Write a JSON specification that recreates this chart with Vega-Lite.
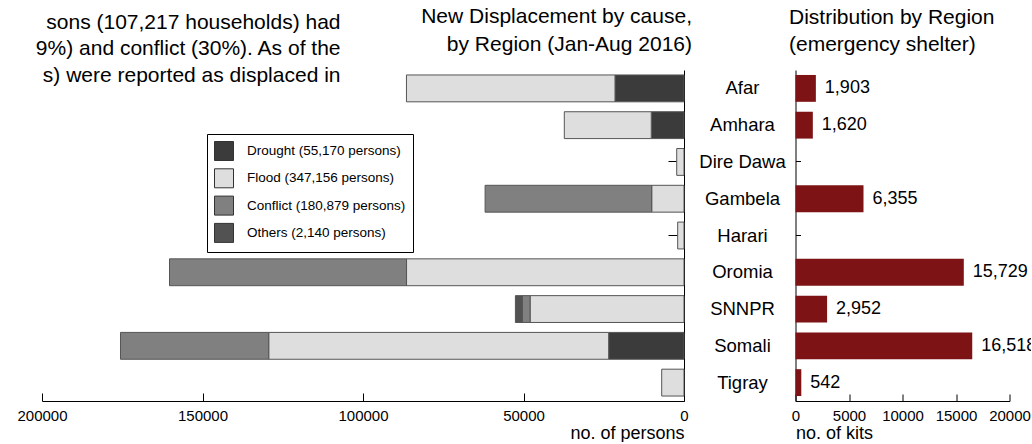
{
  "$schema": "https://vega.github.io/schema/vega-lite/v6.json",
  "padding": {"left": 16, "top": 6, "right": -6, "bottom": 0},
  "bounds": "flush",
  "spacing": 111.5,
  "config": {
    "font": "Liberation Sans",
    "view": {"stroke": null},
    "axis": {"labelFont": "Liberation Sans", "titleFont": "Liberation Sans", "labelColor": "#000", "titleColor": "#000", "domainColor": "#000", "tickColor": "#000", "grid": false, "titleFontWeight": "normal"},
    "title": {"font": "Liberation Sans", "fontWeight": "normal", "color": "#000"},
    "legend": {"labelFont": "Liberation Sans", "labelColor": "#000"}
  },
  "datasets": {
    "displacement": [
      {"region": "Afar", "cause": "Drought", "persons": 21500},
      {"region": "Afar", "cause": "Flood", "persons": 64960},
      {"region": "Amhara", "cause": "Drought", "persons": 10200},
      {"region": "Amhara", "cause": "Flood", "persons": 27090},
      {"region": "Dire Dawa", "cause": "Flood", "persons": 2270},
      {"region": "Gambela", "cause": "Flood", "persons": 10060},
      {"region": "Gambela", "cause": "Conflict", "persons": 51900},
      {"region": "Harari", "cause": "Flood", "persons": 1970},
      {"region": "Oromia", "cause": "Flood", "persons": 86440},
      {"region": "Oromia", "cause": "Conflict", "persons": 73840},
      {"region": "SNNPR", "cause": "Flood", "persons": 47950},
      {"region": "SNNPR", "cause": "Conflict", "persons": 2430},
      {"region": "SNNPR", "cause": "Others", "persons": 2140},
      {"region": "Somali", "cause": "Drought", "persons": 23470},
      {"region": "Somali", "cause": "Flood", "persons": 105900},
      {"region": "Somali", "cause": "Conflict", "persons": 46180},
      {"region": "Tigray", "cause": "Flood", "persons": 6950}
    ],
    "kits": [
      {"region": "Afar", "kits": 1903},
      {"region": "Amhara", "kits": 1620},
      {"region": "Dire Dawa", "kits": 0},
      {"region": "Gambela", "kits": 6355},
      {"region": "Harari", "kits": 0},
      {"region": "Oromia", "kits": 15729},
      {"region": "SNNPR", "kits": 2952},
      {"region": "Somali", "kits": 16518},
      {"region": "Tigray", "kits": 542}
    ]
  },
  "hconcat": [
    {
      "width": 642,
      "height": 331,
      "title": {"text": ["New Displacement by cause,", "by Region (Jan-Aug 2016)"], "anchor": "end", "align": "right", "frame": "group", "dx": 8, "fontSize": 21, "lineHeight": 27.5, "offset": -43.5},
      "data": {"name": "displacement"},
      "transform": [{"calculate": "indexof(['Drought','Flood','Conflict','Others'], datum.cause)", "as": "causeOrder"}],
      "mark": {"type": "bar", "stroke": "#555", "strokeWidth": 1},
      "encoding": {
        "y": {
          "field": "region", "type": "nominal",
          "sort": ["Afar", "Amhara", "Dire Dawa", "Gambela", "Harari", "Oromia", "SNNPR", "Somali", "Tigray"],
          "scale": {"paddingInner": 0.27, "paddingOuter": 0.135},
          "axis": {
            "orient": "right", "labels": false, "tickSize": -16, "domain": true,
            "title": ["sons (107,217 households) had", "9%) and conflict (30%).  As of the", "s) were reported as displaced in"],
            "titleAngle": 0, "titleX": -344, "titleY": -42, "titleAlign": "right", "titleBaseline": "alphabetic",
            "titleFontSize": 21, "titleLineHeight": 26.5
          }
        },
        "x": {
          "field": "persons", "type": "quantitative", "stack": "zero",
          "scale": {"domain": [0, 200000], "reverse": true, "nice": false},
          "axis": {"values": [0, 50000, 100000, 150000, 200000], "format": "d", "tickSize": -8, "labelFlush": false, "labelFontSize": 15, "labelPadding": 15, "title": "no. of persons", "titleAnchor": "start", "titleAlign": "right", "titleFontSize": 18, "titlePadding": 1}
        },
        "order": {"field": "causeOrder", "type": "quantitative", "sort": "ascending"},
        "color": {
          "field": "cause", "type": "nominal",
          "sort": ["Drought", "Flood", "Conflict", "Others"],
          "scale": {"domain": ["Drought", "Flood", "Conflict", "Others"], "range": ["#3b3b3b", "#dedede", "#808080", "#525252"]},
          "legend": {
            "orient": "none", "legendX": 165, "legendY": 64, "title": null,
            "symbolType": "square", "symbolSize": 361, "symbolStrokeColor": "#333", "symbolStrokeWidth": 1, "symbolOpacity": 1,
            "labelFontSize": 13.5, "labelOffset": 13, "rowPadding": 3.3, "padding": 7,
            "strokeColor": "#000", "fillColor": "#fff",
            "labelExpr": "datum.label == 'Drought' ? 'Drought (55,170 persons)' : datum.label == 'Flood' ? 'Flood (347,156 persons)' : datum.label == 'Conflict' ? 'Conflict (180,879 persons)' : 'Others (2,140 persons)'"
          }
        }
      }
    },
    {
      "width": 214,
      "height": 331,
      "title": {"text": ["Distribution by Region", "(emergency shelter)"], "anchor": "start", "align": "left", "frame": "group", "dx": -6.5, "fontSize": 21, "lineHeight": 27.5, "offset": 15},
      "data": {"name": "kits"},
      "encoding": {
        "y": {
          "field": "region", "type": "nominal",
          "sort": ["Afar", "Amhara", "Dire Dawa", "Gambela", "Harari", "Oromia", "SNNPR", "Somali", "Tigray"],
          "scale": {"paddingInner": 0.27, "paddingOuter": 0.135},
          "axis": {"orient": "left", "labelAlign": "center", "labelPadding": 58.5, "tickSize": -5, "labelFontSize": 18.5, "labelBaseline": "middle", "title": null}
        }
      },
      "layer": [
        {
          "mark": {"type": "bar", "color": "#7d1315"},
          "encoding": {
            "x": {
              "field": "kits", "type": "quantitative",
              "scale": {"domain": [0, 20000], "nice": false},
              "axis": {"values": [0, 5000, 10000, 15000, 20000], "format": "d", "tickSize": -7, "labelFlush": false, "labelFontSize": 15, "labelPadding": 14, "title": "no. of kits", "titleAnchor": "start", "titleAlign": "left", "titleFontSize": 18, "titlePadding": 1}
            }
          }
        },
        {
          "transform": [{"filter": "datum.kits > 0"}],
          "mark": {"type": "text", "align": "left", "baseline": "middle", "dx": 9, "fontSize": 18, "color": "#000"},
          "encoding": {
            "x": {"field": "kits", "type": "quantitative"},
            "text": {"field": "kits", "type": "quantitative", "format": ","}
          }
        }
      ]
    }
  ]
}
